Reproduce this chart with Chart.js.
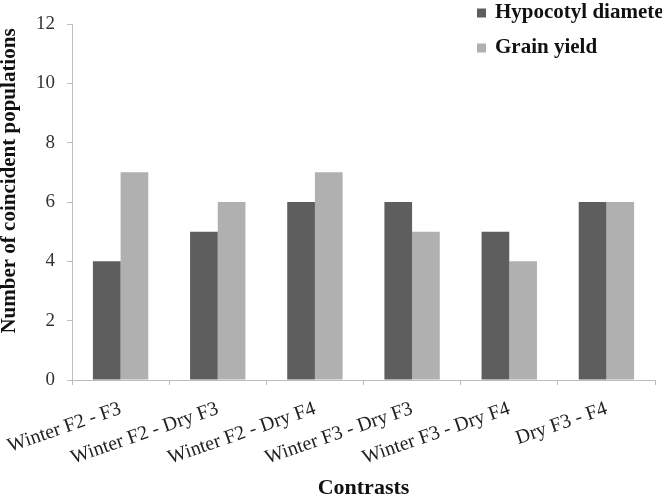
<!DOCTYPE html>
<html>
<head>
<meta charset="utf-8">
<script src="https://cdn.jsdelivr.net/npm/chart.js@4/dist/chart.umd.min.js"></script>
<style>
html,body{margin:0;padding:0;background:#fff;}
#wrap{width:662px;height:498px;position:relative;}
</style>
</head>
<body>
<div id="wrap"><canvas id="c" width="662" height="498"></canvas></div>
<script>
const categories = ["Winter F2 - F3","Winter F2 - Dry F3","Winter F2 - Dry F4","Winter F3 - Dry F3","Winter F3 - Dry F4","Dry F3 - F4"];
const hypocotylDiameter = [4,5,6,6,5,6];
const grainYield = [7,6,7,5,4,6];
const seriesNames = ["Hypocotyl diameter","Grain yield"];
const yTicks = [0,2,4,6,8,10,12];
const yTitle = "Number of coincident populations";
const xTitle = "Contrasts";

const serif = "'Liberation Serif','Times New Roman',serif";

const decorPlugin = {
  id: 'decor',
  afterDraw(chart) {
    const ctx = chart.ctx;
    ctx.save();
    // legend
    ctx.font = "bold 21px " + serif;
    ctx.textBaseline = 'middle';
    ctx.textAlign = 'left';
    chart.data.datasets.forEach((ds, i) => {
      const y = 13 + i * 35;
      ctx.fillStyle = ds.backgroundColor;
      ctx.fillRect(477, y - 4.5, 9, 9);
      ctx.fillStyle = '#111';
      ctx.fillText(ds.label, 495, y);
    });
    // y-axis title
    ctx.translate(10, 181);
    ctx.rotate(-Math.PI / 2);
    ctx.font = "bold 21px " + serif;
    ctx.textAlign = 'center';
    ctx.fillStyle = '#111';
    ctx.fillText(yTitle, 0, 0);
    ctx.restore();
  }
};

new Chart(document.getElementById('c'), {
  type: 'bar',
  data: {
    labels: categories,
    datasets: [
      { label: seriesNames[0], data: hypocotylDiameter, backgroundColor: '#5e5e5e', borderWidth: 0 },
      { label: seriesNames[1], data: grainYield, backgroundColor: '#b0b0b0', borderWidth: 0 }
    ]
  },
  options: {
    responsive: false,
    animation: false,
    layout: { padding: { left: 4, right: 7, top: 24, bottom: 0 } },
    plugins: { legend: { display: false }, tooltip: { enabled: false } },
    datasets: { bar: { categoryPercentage: 0.57, barPercentage: 1.0 } },
    scales: {
      x: {
        grid: { display: true, offset: true, drawOnChartArea: false, drawTicks: true, tickLength: 5, color: '#bdbdbd' },
        border: { display: true, color: '#bdbdbd', width: 1 },
        ticks: { color: '#222', font: { family: serif, size: 20 }, minRotation: 19, maxRotation: 19, autoSkip: false, padding: 12 },
        title: { display: true, text: xTitle, color: '#111', font: { family: serif, size: 22, weight: 'bold' }, padding: { top: 4, bottom: -4 } },
        afterFit(scale) { scale.height = 118; scale.paddingLeft = 0; scale.paddingRight = 0; }
      },
      y: {
        min: 0, max: 12,
        afterBuildTicks(scale) { scale.ticks = yTicks.map(v => ({ value: v })); },
        grid: { display: true, drawOnChartArea: false, drawTicks: true, tickLength: 5, color: '#bdbdbd' },
        border: { display: true, color: '#bdbdbd', width: 1 },
        ticks: { color: '#333', font: { family: serif, size: 19 }, padding: 12 },
        title: { display: false },
        afterFit(scale) { scale.width = 68; scale.paddingTop = 0; scale.paddingBottom = 0; }
      }
    }
  },
  plugins: [decorPlugin]
});
</script>
</body>
</html>
